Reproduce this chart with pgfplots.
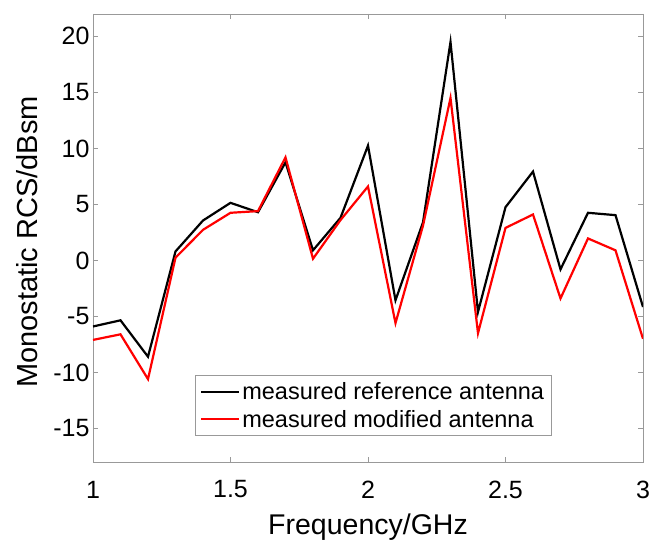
\documentclass[border=0pt]{standalone}
\usepackage{fontspec}
\setmainfont{Liberation Sans}
\usepackage{pgfplots}
\pgfplotsset{compat=1.18}

\begin{document}
\begin{tikzpicture}
\begin{axis}[
    at={(0pt,0pt)}, anchor=south west,
    scale only axis,
    width=550pt, height=448pt,
    xmin=1, xmax=3, ymin=-18, ymax=22,
    xtick={1,1.5,2,2.5,3},
    ytick={-15,-10,-5,0,5,10,15,20},
    /pgf/number format/assume math mode=true,
    tick label style={font=\fontsize{25}{29}\selectfont},
    xlabel={Frequency/GHz},
    ylabel={Monostatic RCS/dBsm},
    xlabel style={font=\fontsize{28.5}{33}\selectfont,
        at={(axis description cs:0.5,-0.145)}, anchor=center},
    ylabel style={font=\fontsize{29}{33}\selectfont,
        at={(axis description cs:-0.12,0.491)}, anchor=center},
    axis line style={draw=black!40, line width=0.8pt},
    tick style={draw=black!40, line width=0.8pt},
    major tick length=5pt,
    tick align=inside,
    xticklabel style={anchor=center, yshift=-27.5pt},
    legend style={at={(0.185,0.194)}, anchor=north west,
        draw=black!40, line width=0.8pt,
        font=\fontsize{23.5}{28}\selectfont,
        row sep=5pt, inner xsep=5pt, inner ysep=5pt},
    legend cell align=left,
    legend image code/.code={\draw[#1, line width=2.2pt] (0pt,0pt) -- (38pt,0pt);},
]
\addplot[black, line width=2.2pt] coordinates {
(1.0,-5.9) (1.1,-5.35) (1.2,-8.6) (1.3,0.8) (1.4,3.56) (1.5,5.14)
(1.6,4.3) (1.7,8.76) (1.8,0.9) (1.9,3.8) (2.0,10.25) (2.1,-3.56)
(2.2,3.4) (2.3,19.5) (2.4,-4.6) (2.5,4.75) (2.6,7.93) (2.7,-0.8)
(2.8,4.25) (2.9,4.04) (3.0,-4.16)
};
\addlegendentry{measured reference antenna}
\addplot[red, line width=2.2pt] coordinates {
(1.0,-7.1) (1.1,-6.6) (1.2,-10.6) (1.3,0.24) (1.4,2.73) (1.5,4.25)
(1.6,4.4) (1.7,9.2) (1.8,0.15) (1.9,3.6) (2.0,6.6) (2.1,-5.6)
(2.2,3.1) (2.3,14.5) (2.4,-6.5) (2.5,2.9) (2.6,4.1) (2.7,-3.4)
(2.8,1.96) (2.9,0.9) (3.0,-7.0)
};
\addlegendentry{measured modified antenna}
\end{axis}
\pgfresetboundingbox
\useasboundingbox (-93pt,-78pt) rectangle (569pt,462pt);
\end{tikzpicture}
\end{document}
